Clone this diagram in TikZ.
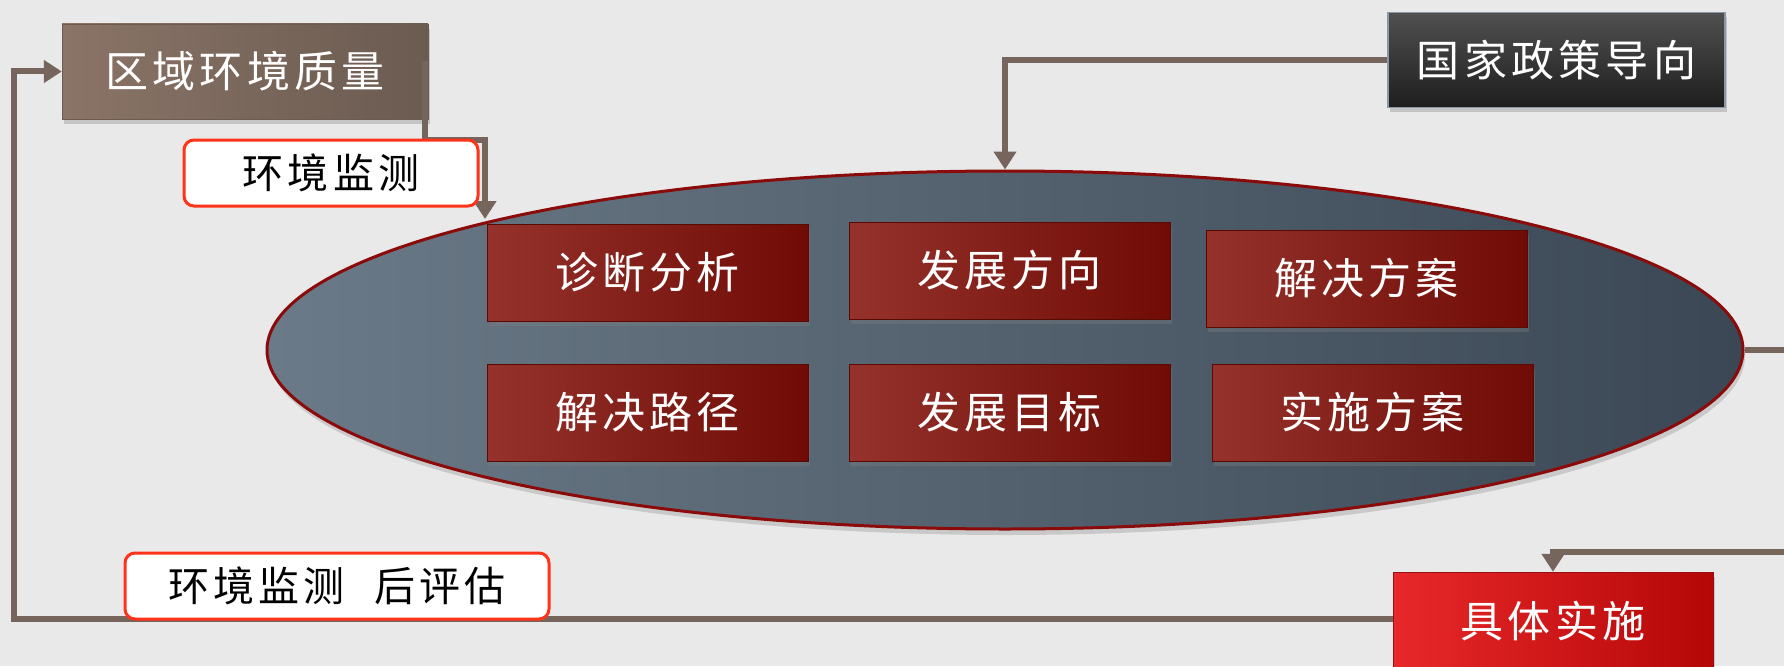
\documentclass[tikz,border=0pt]{standalone}
\usepackage{fontspec}
\newfontfamily\cjk[LetterSpace=10]{Noto Sans CJK SC}
\usetikzlibrary{shapes.geometric,shadows,arrows.meta,calc}
\definecolor{bg}{HTML}{E9E9E9}
\definecolor{conncol}{HTML}{76655C}
\definecolor{wbord}{HTML}{FF3319}
\tikzset{
  conn/.style={draw=conncol,line width=6pt},
  tip/.style={-{Triangle[width=22pt,length=18pt]}},
  basebox/.style={rectangle,minimum height=95pt,text=white,font=\cjk\fontsize{43}{48}\selectfont,
     drop shadow={shadow xshift=2pt,shadow yshift=-5pt,opacity=0.35}},
  brownbox/.style={basebox,minimum width=366pt,left color=brown1,right color=brown2,draw=brown2},
  darkbox/.style={basebox,minimum width=337pt,top color=dark1,bottom color=dark2,draw=darkb,line width=1.5pt},
  redbox/.style={basebox,minimum width=321pt,minimum height=97pt,left color=red1,right color=red2,draw=red3,line width=1pt},
  brightbox/.style={basebox,minimum width=320pt,minimum height=98pt,left color=br1,right color=br2,draw=br3},
  labelbox/.style={rectangle,rounded corners=10pt,fill=white,draw=wbord,line width=3pt,minimum height=66pt,
     font=\cjk\fontsize{41}{46}\selectfont,text=black},
}
\definecolor{brown1}{HTML}{8A7467}
\definecolor{brown2}{HTML}{6B5B51}
\definecolor{dark1}{HTML}{505050}
\definecolor{dark2}{HTML}{1E1E1E}
\definecolor{darkb}{HTML}{8898A8}
\definecolor{red1}{HTML}{95322C}
\definecolor{red2}{HTML}{700B05}
\definecolor{red3}{HTML}{5A0A05}
\definecolor{br1}{HTML}{E8282A}
\definecolor{br2}{HTML}{B50707}
\definecolor{br3}{HTML}{9A1010}
\definecolor{ell1}{HTML}{6B7A88}
\definecolor{ell2}{HTML}{3B4754}
\definecolor{ellb}{HTML}{8B0A0A}
\begin{document}
\begin{tikzpicture}[x=1pt,y=-1pt]
\clip (0,0) rectangle (1784,666);
\useasboundingbox (0,0) rectangle (1784,666);
\fill[bg] (0,0) rectangle (1784,666);
% ellipse
\node[ellipse,minimum width=1476pt,minimum height=358pt,inner sep=0pt,left color=ell1,right color=ell2,draw=ellb,line width=3pt,
   drop shadow={shadow xshift=2pt,shadow yshift=-6pt,opacity=0.3}] (ell) at (1005,350) {};
% inner boxes
\node[redbox] (zd) at (647.5,272.5) {诊断分析};
\node[redbox] (fx) at (1009.5,270.5) {发展方向};
\node[redbox] (fa) at (1366.5,278.5) {解决方案};
\node[redbox] (lj) at (647.5,412.5) {解决路径};
\node[redbox] (mb) at (1009.5,412.5) {发展目标};
\node[redbox] (ss) at (1372.5,412.5) {实施方案};
% outer boxes
\node[brownbox] (qy) at (245,71.5) {区域环境质量};
\node[darkbox] (gj) at (1556.5,60) {国家政策导向};
\node[brightbox] (jt) at (1553,621) {具体实施};
% coordinates
\coordinate (lft) at (14,0);
\coordinate (jog) at (485,140);
\coordinate (e1) at (485,219);
\coordinate (rgt) at (1800,552);
% connectors
\draw[conn,tip] ($(qy.east)+(-3,-10)$) |- (jog) -- (e1);
\draw[conn,tip] (gj.west) -| (ell.north);
\draw[conn,tip] (ell.east) -| (rgt) -| (jt.north);
\draw[conn,tip] ($(jt.west)+(0,-2)$) -- ($(jt.west -| lft)+(0,-2)$) |- (qy.west);
% label boxes
\node[labelbox,minimum width=294pt] (jc) at (331,173) {环境监测};
\node[labelbox,minimum width=424pt] (hp) at (337,586) {环境监测\hspace*{30pt}后评估};
\end{tikzpicture}
\end{document}
